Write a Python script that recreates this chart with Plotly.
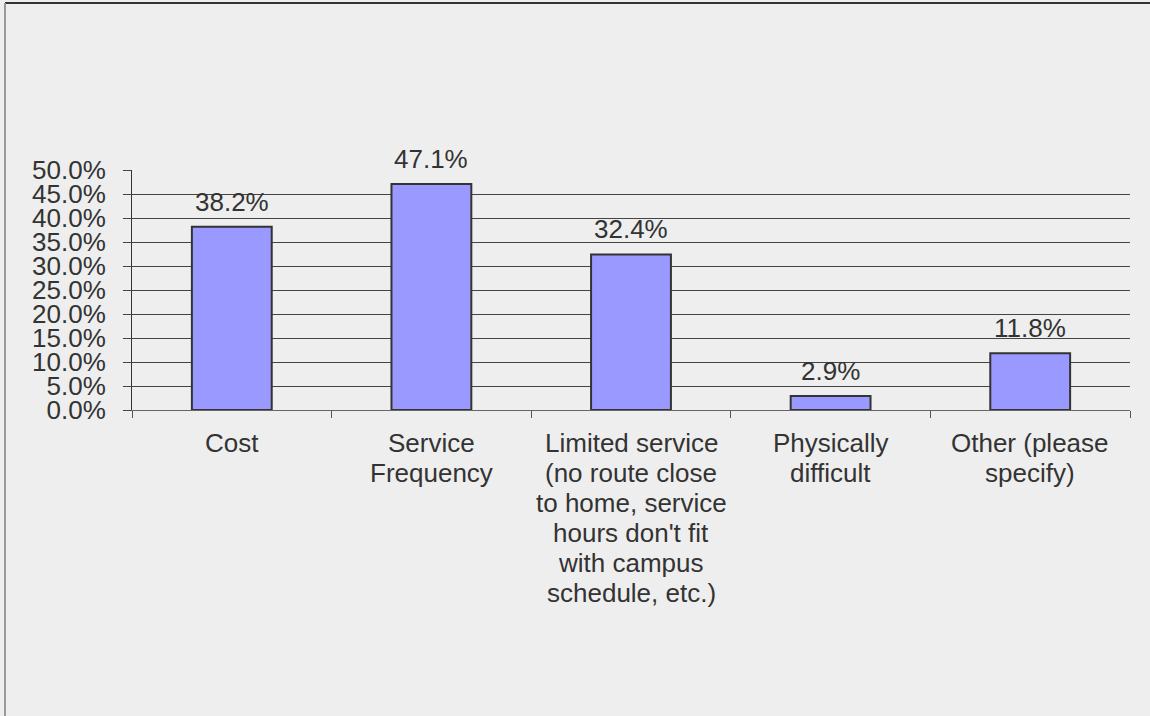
import plotly.graph_objects as go

# Survey response shares (percent)
categories = [
    "Cost",
    "Service Frequency",
    "Limited service (no route close to home, service hours don't fit with campus schedule, etc.)",
    "Physically difficult",
    "Other (please specify)",
]
# wrapped lines of each category label
category_lines = [
    ["Cost"],
    ["Service", "Frequency"],
    ["Limited service", "(no route close", "to home, service",
     "hours don't fit", "with campus", "schedule, etc.)"],
    ["Physically", "difficult"],
    ["Other (please", "specify)"],
]
values = [38.2, 47.1, 32.4, 2.9, 11.8]
y_ticks = [0, 5, 10, 15, 20, 25, 30, 35, 40, 45, 50]
y_tick_labels = [f"{v:.1f}%" for v in y_ticks]

FONT = "Liberation Sans, Arial, sans-serif"
TEXT = "#333333"
BG = "#eeeeee"
FS = 26
LINE_STEP = 30

W, H = 1150, 716
L, R, T, B = 132, 20, 170, 306
pw, ph = W - L - R, H - T - B


def px_to_paper(x, y):
    return (x - L) / pw, (H - B - y) / ph


fig = go.Figure(
    go.Bar(
        x=categories,
        y=values,
        width=0.4,
        marker=dict(color="#9999ff", line=dict(color="#333333", width=2)),
        hoverinfo="skip",
    )
)

# value labels above each bar
for c, v in zip(categories, values):
    fig.add_annotation(
        x=c, y=v, text=f"{v:.1f}%", showarrow=False,
        yanchor="bottom", yshift=8,
        font=dict(family=FONT, size=FS, color=TEXT),
    )

# category labels under the axis, one line at a time for tight spacing
for c, lines in zip(categories, category_lines):
    for i, line in enumerate(lines):
        fig.add_annotation(
            x=c, y=0, text=line, showarrow=False,
            yanchor="middle", yshift=-(33 + LINE_STEP * i),
            font=dict(family=FONT, size=FS, color=TEXT),
        )

# outer frame (top and left edges)
x0, y0 = px_to_paper(5, 3)
fig.add_shape(type="line", xref="paper", yref="paper", x0=x0, x1=2, y0=y0, y1=y0,
              line=dict(color="#333333", width=2))
fig.add_shape(type="line", xref="paper", yref="paper", x0=x0, x1=x0, y0=y0, y1=-3,
              line=dict(color="#999999", width=2))

fig.update_layout(
    width=W, height=H,
    margin=dict(l=L, r=R, t=T, b=B, pad=0),
    paper_bgcolor=BG, plot_bgcolor=BG,
    showlegend=False,
    font=dict(family=FONT, size=FS, color=TEXT),
    xaxis=dict(
        tickson="boundaries", ticks="outside", ticklen=7, tickcolor="#555555",
        showline=True, linecolor="#666666", linewidth=1,
        showgrid=False, showticklabels=False,
    ),
    yaxis=dict(
        range=[0, 50], tickvals=y_ticks, ticktext=y_tick_labels,
        ticks="outside", ticklen=8, tickcolor="#444444",
        showline=True, linecolor="#333333", linewidth=1,
        showgrid=True, gridcolor="#444444", gridwidth=1,
        zeroline=False, tickfont=dict(family=FONT, size=FS, color=TEXT),
        ticklabelstandoff=12,
    ),
)

fig.write_html("out.html")
